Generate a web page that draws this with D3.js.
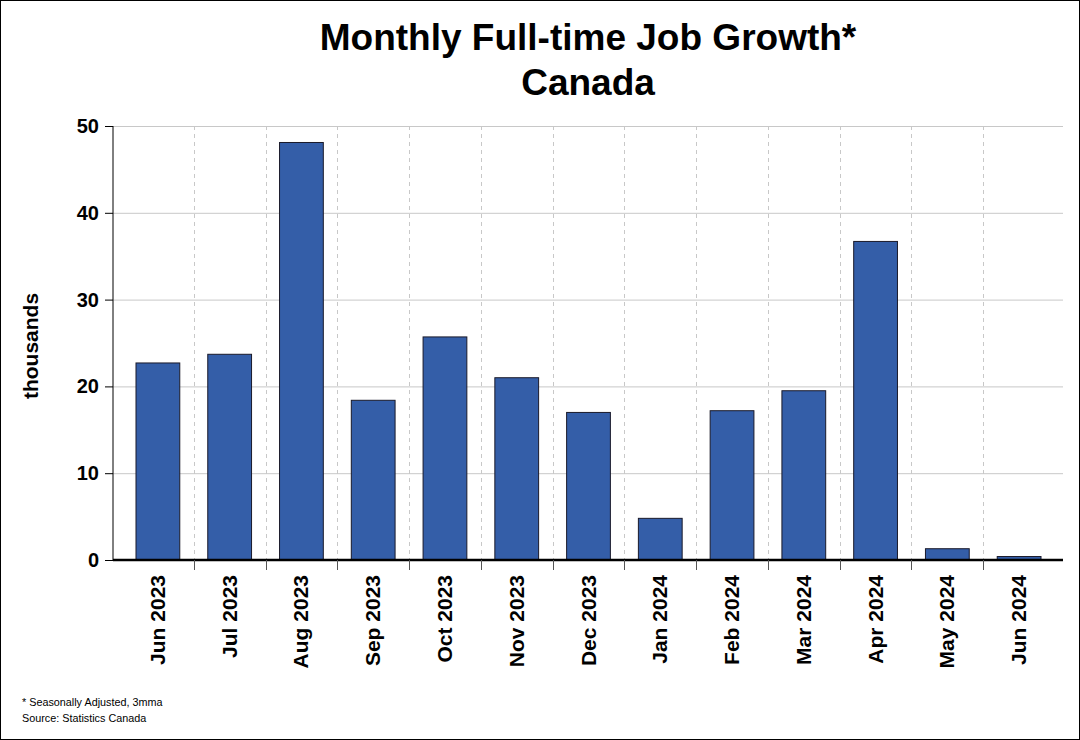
<!DOCTYPE html>
<html><head><meta charset="utf-8">
<script src="https://cdn.jsdelivr.net/npm/d3@7"></script>
<style>body{margin:0;background:#fff}svg{display:block;font-family:Arial,"Liberation Sans",sans-serif}</style>
</head><body>
<svg id="c" width="1080" height="740"></svg>
<script>
const categories = ["Jun 2023","Jul 2023","Aug 2023","Sep 2023","Oct 2023","Nov 2023","Dec 2023","Jan 2024","Feb 2024","Mar 2024","Apr 2024","May 2024","Jun 2024"];
const values = [22.7,23.7,48.1,18.4,25.7,21.0,17.0,4.8,17.2,19.5,36.7,1.3,0.4];
const yTicks = [0,10,20,30,40,50];
const titleLines = ["Monthly Full-time Job Growth*","Canada"];
const notes = ["* Seasonally Adjusted, 3mma","Source: Statistics Canada"];

const svg = d3.select("#c");
svg.append("rect").attr("x",0.5).attr("y",0.5).attr("width",1079).attr("height",739).attr("fill","#fff").attr("stroke","#000");

const L=113, R=1063, T=126, B=560;
const x = d3.scaleBand().domain(categories).range([122,1055]).paddingInner(0.39).paddingOuter(0.195);
const xb = d3.scaleBand().domain(categories).range([122,1055]);
const y = d3.scaleLinear().domain([0,50]).range([B,T]);

svg.append("g").selectAll("line").data(yTicks.filter(d=>d>0)).join("line")
  .attr("x1",L).attr("x2",R).attr("y1",d=>y(d)+0.5).attr("y2",d=>y(d)+0.5)
  .attr("stroke","#c8c8c8").attr("stroke-width",1);
const bounds = categories.slice(1).map(c=>xb(c));
svg.append("g").selectAll("line").data(bounds).join("line")
  .attr("x1",d=>Math.round(d)+0.5).attr("x2",d=>Math.round(d)+0.5).attr("y1",T).attr("y2",B)
  .attr("stroke","#c8c8c8").attr("stroke-dasharray","4,4");

svg.append("g").selectAll("rect").data(values).join("rect")
  .attr("x",(d,i)=>x(categories[i])).attr("width",x.bandwidth())
  .attr("y",d=>y(d)).attr("height",d=>B-y(d))
  .attr("fill","#345ea8").attr("stroke","#1a1a2a").attr("stroke-width",1);

const ya = svg.append("g").attr("transform",`translate(${L},0)`)
  .call(d3.axisLeft(y).tickValues(yTicks).tickSize(8).tickPadding(6));
ya.select(".domain").attr("d",`M0,${T}V${B}`).attr("stroke","#000");
ya.selectAll("text").attr("font-size",20).attr("font-weight","bold").attr("fill","#000").attr("font-family","Arial,'Liberation Sans',sans-serif");
ya.selectAll("line").attr("stroke","#000");

svg.append("line").attr("x1",L).attr("x2",R).attr("y1",B).attr("y2",B).attr("stroke","#000").attr("stroke-width",2.5);
svg.append("g").selectAll("line").data(bounds).join("line")
  .attr("x1",d=>Math.round(d)+0.5).attr("x2",d=>Math.round(d)+0.5).attr("y1",B).attr("y2",B+10)
  .attr("stroke","#555").attr("stroke-width",1);
svg.append("g").selectAll("text").data(categories).join("text")
  .attr("transform",d=>`translate(${xb(d)+xb.bandwidth()/2+7},575) rotate(-90)`)
  .attr("text-anchor","end").attr("font-size",21).attr("font-weight","bold").text(d=>d);

svg.append("text").attr("transform","translate(38,346) rotate(-90)").attr("text-anchor","middle")
  .attr("font-size",21).attr("font-weight","bold").text("thousands");

svg.append("g").selectAll("text").data(titleLines).join("text")
  .attr("x",588).attr("y",(d,i)=>50+i*45).attr("text-anchor","middle")
  .attr("font-size",37).attr("font-weight","bold").text(d=>d);

svg.append("g").selectAll("text").data(notes).join("text")
  .attr("x",22).attr("y",(d,i)=>706+i*16).attr("font-size",10.8).text(d=>d);
</script>
</body></html>
